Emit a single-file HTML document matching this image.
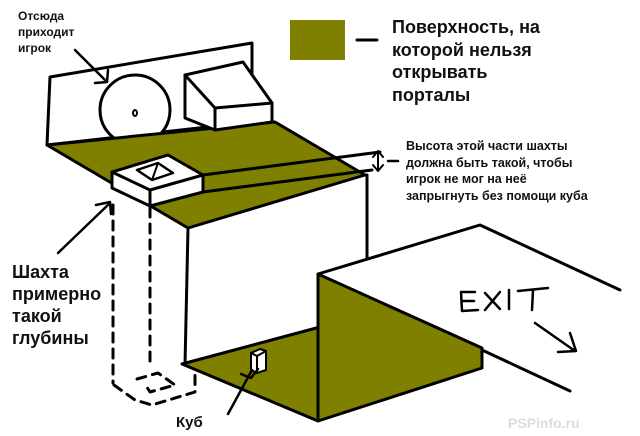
<!DOCTYPE html>
<html><head><meta charset="utf-8"><style>
html,body{margin:0;padding:0;background:#fff;}
svg{display:block;}
text{font-family:"Liberation Sans","DejaVu Sans",sans-serif;font-weight:bold;fill:#111;}
</style></head><body>
<svg width="640" height="436" viewBox="0 0 640 436" xmlns="http://www.w3.org/2000/svg">
<g stroke="#000" stroke-width="3" stroke-linejoin="round" stroke-linecap="round" fill="none">
<!-- back wall -->
<polygon points="50,77 252,43 252,122 47,145" fill="#fff"/>
<!-- door circle -->
<circle cx="135" cy="110" r="35" fill="#fff"/>
<ellipse cx="135" cy="113" rx="2" ry="3" stroke-width="2"/>
<!-- upper green floor -->
<polygon points="47,145 275,122 365,175 188,228" fill="#7f7f00"/>
<!-- slanted box -->
<polygon points="185,75 243,62 272,103 272,122 215,130 185,118" fill="#fff"/>
<polyline points="185,75 215,108 272,103"/>
<line x1="215" y1="108" x2="215" y2="130"/>
<!-- lines to annotation -->
<line x1="203" y1="175" x2="380" y2="152"/>
<line x1="203" y1="192" x2="372" y2="170"/>
<!-- shaft box -->
<polygon points="112,172 168,155 203,175 203,192 150,206 112,188" fill="#fff"/>
<polyline points="112,172 150,190 203,175"/>
<line x1="150" y1="190" x2="150" y2="206"/>
<polygon points="137,170 158,163 173,173 152,180" stroke-width="2.5"/>
<line x1="158" y1="163" x2="152" y2="180" stroke-width="2"/>
<!-- annotation bracket -->
<line x1="378" y1="152" x2="378" y2="170" stroke-width="2"/>
<polyline points="373,157 378,151 383,157" stroke-width="2"/>
<polyline points="373,165 378,171 383,165" stroke-width="2"/>
<line x1="388" y1="161" x2="398" y2="161" stroke-width="2.5"/>
<!-- verticals of block -->
<line x1="188" y1="228" x2="185" y2="365"/>
<line x1="367" y1="175" x2="367" y2="258"/>
<!-- lower floor -->
<polygon points="182,364 320,327 318,421" fill="#7f7f00"/>
<!-- green wall face -->
<polygon points="318,274 482,348 482,368 318,421" fill="#7f7f00"/>
<!-- white platform -->
<polyline points="318,274 480,225 620,290"/>
<line x1="482" y1="350" x2="570" y2="391"/>
<!-- cube -->
<polygon points="251,353 260,349 266,351 266,370 257,373 251,370" fill="#fff" stroke-width="2"/>
<polyline points="251,353 257,356 266,351" stroke-width="2"/>
<line x1="257" y1="356" x2="257" y2="373" stroke-width="2"/>
<!-- cube arrow -->
<line x1="228" y1="414" x2="252" y2="370" stroke-width="2.5"/>
<polyline points="241,374 251,378 258,369" stroke-width="2.5"/>
<!-- dashed shaft -->
<g stroke-dasharray="9,7" stroke-width="3">
<line x1="113" y1="205" x2="113" y2="383"/>
<line x1="150" y1="208" x2="150" y2="362"/>
<polyline points="114,385 135,400 152,405 195,392 195,375"/>
<polyline points="137,379 158,373 175,385 150,392 145,384"/>
</g>
<!-- arrows -->
<line x1="75" y1="50" x2="106" y2="81" stroke-width="2.5"/>
<polyline points="95,83 107,82 108,70" stroke-width="2.5"/>
<line x1="58" y1="253" x2="110" y2="203" stroke-width="2.5"/>
<polyline points="96,205 110,202 111,214" stroke-width="2.5"/>
<!-- EXIT -->
<g stroke-width="2.5">
<polyline points="475,292 461,292 462,311 478,310"/>
<line x1="462" y1="301" x2="474" y2="301"/>
<line x1="485" y1="293" x2="500" y2="309"/>
<line x1="500" y1="292" x2="485" y2="310"/>
<line x1="509" y1="290" x2="509" y2="309"/>
<line x1="518" y1="291" x2="548" y2="288"/>
<line x1="533" y1="290" x2="532" y2="310"/>
<line x1="535" y1="323" x2="575" y2="351"/>
<polyline points="570,333 576,351 558,352"/>
</g>
<!-- legend -->
<rect x="290" y="20" width="55" height="40" fill="#7f7f00" stroke="none"/>
<line x1="357" y1="40" x2="377" y2="40" stroke-width="3"/>
</g>
<text x="18" y="20" font-size="12">Отсюда</text>
<text x="18" y="36" font-size="12">приходит</text>
<text x="18" y="52" font-size="12">игрок</text>
<text x="392" y="33" font-size="18">Поверхность, на</text>
<text x="392" y="56" font-size="18">которой нельзя</text>
<text x="392" y="78" font-size="18">открывать</text>
<text x="392" y="101" font-size="18">порталы</text>
<text x="406" y="150" font-size="12.5">Высота этой части шахты</text>
<text x="406" y="167" font-size="12.5">должна быть такой, чтобы</text>
<text x="406" y="183" font-size="12.5">игрок не мог на неё</text>
<text x="406" y="200" font-size="12.5">запрыгнуть без помощи куба</text>
<text x="12" y="278" font-size="18">Шахта</text>
<text x="12" y="300" font-size="18">примерно</text>
<text x="12" y="322" font-size="18">такой</text>
<text x="12" y="344" font-size="18">глубины</text>
<text x="176" y="427" font-size="15" font-weight="normal">Куб</text>
<text x="508" y="428" font-size="14" font-weight="normal" style="fill:#dcdcdc">PSPinfo.ru</text>
</svg>
</body></html>
